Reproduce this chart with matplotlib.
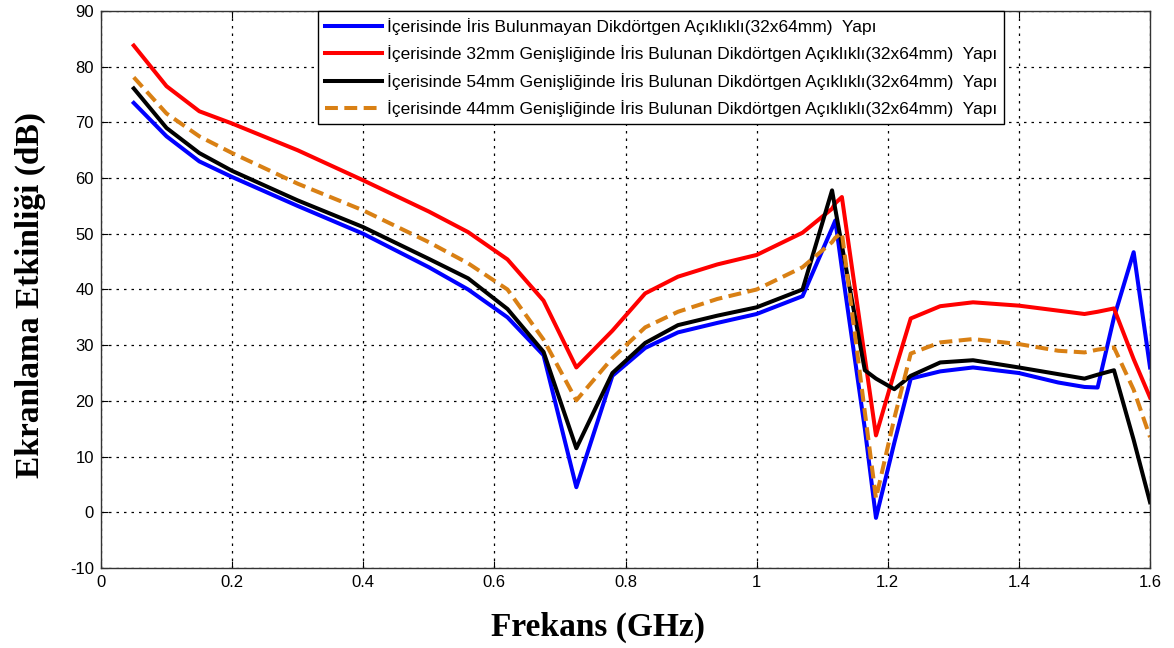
import matplotlib
matplotlib.use("Agg")
import matplotlib.pyplot as plt

# Frequency samples (GHz)
freq = [0.05, 0.1, 0.15, 0.2, 0.3, 0.4, 0.5, 0.56, 0.62, 0.675, 0.725, 0.78,
        0.83, 0.88, 0.94, 1.0, 1.07, 1.115, 1.12, 1.13, 1.165, 1.182, 1.21,
        1.235, 1.28, 1.33, 1.4, 1.46, 1.5, 1.52, 1.545, 1.575, 1.6]

# Shielding effectiveness (dB) for each aperture structure
se_no_iris = [73.5, 67.5, 63.0, 60.2, 55.0, 50.0, 44.0, 40.0, 35.0, 28.2, 4.5, 24.5,
              29.5, 32.3, 34.0, 35.6, 38.8, 51.0, 52.4, 43.8, 15.0, -1.0, 12.5,
              24.0, 25.3, 26.0, 25.0, 23.3, 22.5, 22.4, 35.0, 46.7, 26.0]
se_iris_32 = [83.8, 76.5, 72.0, 69.8, 65.0, 59.6, 54.0, 50.3, 45.4, 38.0, 26.0, 32.6,
              39.3, 42.3, 44.5, 46.2, 50.2, 54.5, 55.5, 56.6, 27.8, 13.8, 25.1,
              34.8, 37.0, 37.7, 37.1, 36.2, 35.6, 36.0, 36.6, 27.5, 20.6]
se_iris_54 = [76.1, 69.0, 64.5, 61.3, 56.0, 51.2, 45.5, 42.0, 36.5, 28.8, 11.5, 25.0,
              30.4, 33.6, 35.3, 36.8, 40.0, 57.8, 54.4, 47.9, 25.5, 24.0, 22.1,
              24.5, 26.9, 27.3, 26.0, 24.8, 24.0, 24.7, 25.5, 13.0, 1.8]
se_iris_44 = [78.1, 71.6, 67.5, 64.5, 59.0, 54.2, 48.5, 44.7, 40.0, 31.0, 20.1, 27.7,
              33.2, 36.0, 38.3, 40.0, 44.0, 48.5, 49.3, 50.2, 18.0, 2.5, 16.9,
              28.5, 30.5, 31.1, 30.2, 29.0, 28.7, 29.2, 29.6, 22.0, 13.5]

labels = [
    "İçerisinde İris Bulunmayan Dikdörtgen Açıklıklı(32x64mm)  Yapı",
    "İçerisinde 32mm Genişliğinde İris Bulunan Dikdörtgen Açıklıklı(32x64mm)  Yapı",
    "İçerisinde 54mm Genişliğinde İris Bulunan Dikdörtgen Açıklıklı(32x64mm)  Yapı",
    "İçerisinde 44mm Genişliğinde İris Bulunan Dikdörtgen Açıklıklı(32x64mm)  Yapı",
]

x_ticks = [0, 0.2, 0.4, 0.6, 0.8, 1.0, 1.2, 1.4, 1.6]
x_tick_labels = ["0", "0.2", "0.4", "0.6", "0.8", "1", "1.2", "1.4", "1.6"]
y_ticks = list(range(-10, 91, 10))

plt.rcParams["font.family"] = ["Liberation Sans", "DejaVu Sans"]
plt.rcParams["axes.unicode_minus"] = False

fig = plt.figure(figsize=(11.74, 6.48), dpi=100)
ax = fig.add_axes([0.086, 0.1235, 0.8936, 0.8595])

lw = 2.9
ax.plot(freq, se_no_iris, color="#0000ff", lw=lw, label=labels[0])
ax.plot(freq, se_iris_32, color="#ff0000", lw=lw, label=labels[1])
ax.plot(freq, se_iris_54, color="#000000", lw=lw, label=labels[2])
ax.plot(freq, se_iris_44, color="#d98014", lw=lw, ls=(0, (3.2, 1.6)), label=labels[3])

ax.set_xlim(0, 1.6)
ax.set_ylim(-10, 90)
ax.set_xticks(x_ticks)
ax.set_xticklabels(x_tick_labels)
ax.set_yticks(y_ticks)
ax.tick_params(direction="in", top=True, right=True, labelsize=12, length=5, pad=5)
ax.grid(True, color="black", ls=(0, (2, 4)), lw=0.9)
for s in ax.spines.values():
    s.set_linewidth(1.0)
    s.set_color("#333333")

ax.set_xlabel("Frekans (GHz)", family="Liberation Serif", fontweight="bold",
              fontsize=24, labelpad=16)
ax.set_ylabel("Ekranlama Etkinliği (dB)", family="Liberation Serif", fontweight="bold",
              fontsize=24, labelpad=17)
ax.xaxis.label.set_x(0.474)
ax.yaxis.label.set_y(0.49)

leg = ax.legend(loc="upper left", bbox_to_anchor=(0.2065, 1.0), fontsize=12.5,
                frameon=True, fancybox=False, edgecolor="black", framealpha=1,
                handlelength=3.3, labelspacing=0.6, borderpad=0.4,
                handletextpad=0.3, borderaxespad=0.0)
leg.get_frame().set_linewidth(1.0)

fig.savefig("out.png", dpi=100, facecolor="white")
